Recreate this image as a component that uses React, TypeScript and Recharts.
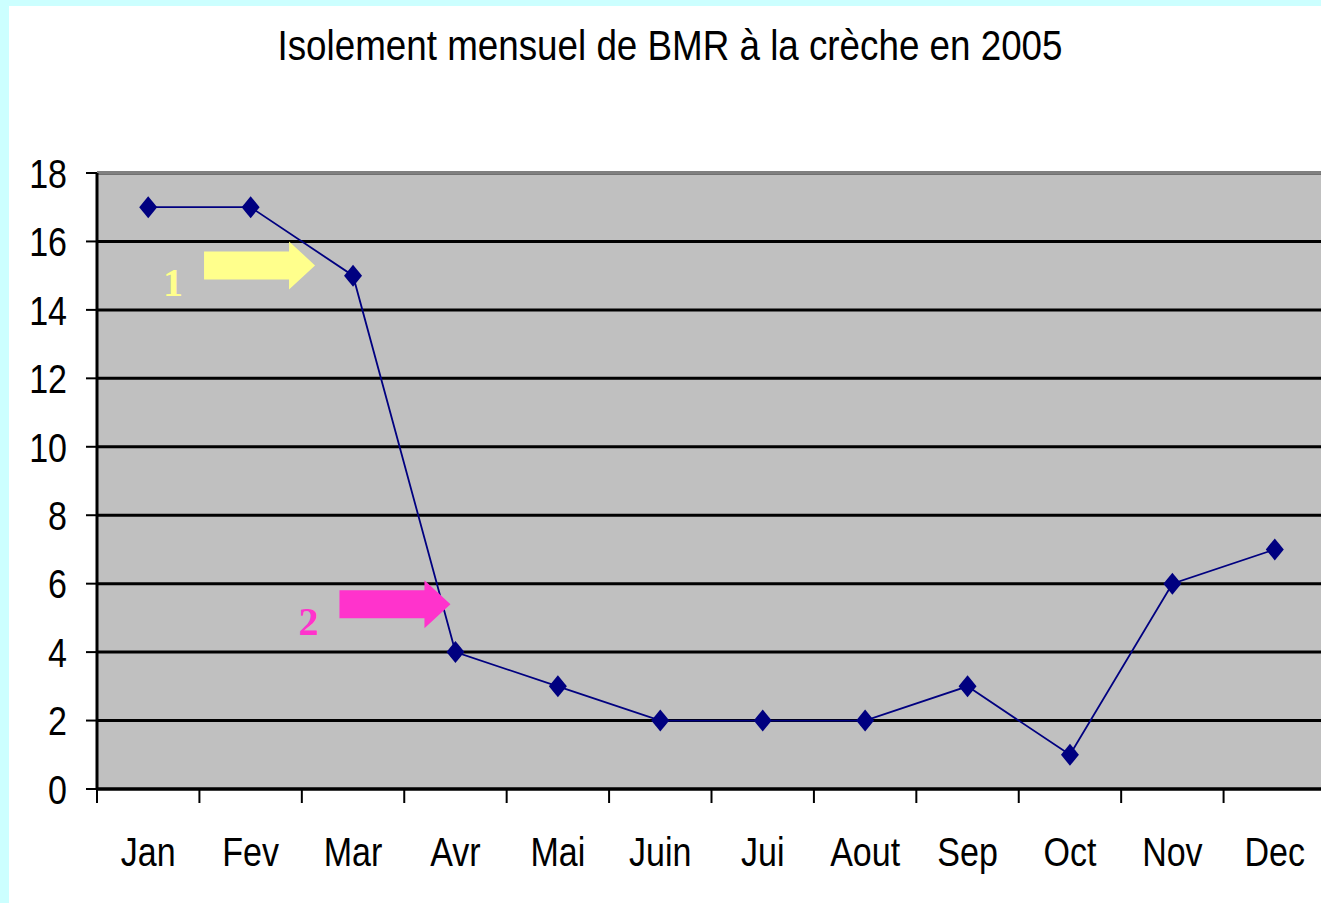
import React from 'react';
import { LineChart, Line, XAxis, YAxis, CartesianGrid, ReferenceLine, ReferenceDot } from 'recharts';

const months = ['Jan', 'Fev', 'Mar', 'Avr', 'Mai', 'Juin', 'Jui', 'Aout', 'Sep', 'Oct', 'Nov', 'Dec'];
const isolements = [17, 17, 15, 4, 3, 2, 2, 2, 3, 1, 6, 7];
const yTicks = [0, 2, 4, 6, 8, 10, 12, 14, 16, 18];

// annotation arrows (anchored on a month and a value)
const arrowLabels = ['1', '2'];
const arrowMonths = ['Mar', 'Avr'];
const arrowValues = [15.3, 5.4];

const title = 'Isolement mensuel de BMR à la crèche en 2005';

const data = months.map((m, i) => ({ month: m, value: isolements[i] }));

const FONT = "'Liberation Sans', Arial, sans-serif";
const NAVY = '#000080';
const PLOT_W = 1229;
const BAND = PLOT_W / months.length;
const SQUEEZE = 0.83;

const arrowStyles = [
  { color: '#FFFF8C', dx: -38 },
  { color: '#FF33CC', dx: -5 },
];

const MonthTick = ({ x, y, payload }: any) => (
  <g>
    <line x1={x - BAND / 2} x2={x - BAND / 2} y1={y} y2={y + 14} stroke="#000" strokeWidth={2} />
    <text
      transform={`translate(${x},${y + 77}) scale(${SQUEEZE},1)`}
      textAnchor="middle"
      fontFamily={FONT}
      fontSize={41}
      fill="#000"
    >
      {payload.value}
    </text>
  </g>
);

const ValueTick = ({ x, y, payload }: any) => (
  <text
    transform={`translate(${x},${y}) scale(${SQUEEZE},1)`}
    textAnchor="end"
    dy="0.36em"
    fontFamily={FONT}
    fontSize={41}
    fill="#000"
  >
    {payload.value}
  </text>
);

const Marker = ({ cx, cy }: any) => {
  if (cx == null || cy == null) return null;
  return (
    <g>
      <polygon
        points={`${cx},${cy - 11} ${cx + 9},${cy} ${cx},${cy + 11} ${cx - 9},${cy}`}
        fill={NAVY}
      />
      <circle cx={cx} cy={cy} r={6.5} fill={NAVY} />
    </g>
  );
};

const makeArrow = (label: string, color: string, dx: number) => ({ cx, cy }: any) => {
  const tip = cx + dx;
  const neck = tip - 26;
  const tail = neck - 85;
  return (
    <g>
      <polygon
        points={`${tail},${cy - 14} ${neck},${cy - 14} ${neck},${cy - 24} ${tip},${cy} ${neck},${cy + 24} ${neck},${cy + 14} ${tail},${cy + 14}`}
        fill={color}
      />
      <text
        x={tip - 142}
        y={cy + 31}
        textAnchor="middle"
        fontFamily="'Liberation Serif', 'Times New Roman', serif"
        fontWeight="bold"
        fontSize={40}
        fill={color}
      >
        {label}
      </text>
    </g>
  );
};

export default function App() {
  return (
    <div
      style={{
        position: 'absolute',
        left: 0,
        top: 0,
        width: 1321,
        height: 903,
        background: '#CCFFFF',
        overflow: 'hidden',
      }}
    >
      <div style={{ position: 'absolute', left: 9, top: 6, right: 0, bottom: 0, background: '#fff' }} />
      <svg width={1321} height={100} style={{ position: 'absolute', left: 0, top: 0 }}>
        <text
          transform={`translate(670,60) scale(1,1.05)`}
          textAnchor="middle"
          fontFamily={FONT}
          fontSize={40}
          textLength={785}
          lengthAdjust="spacingAndGlyphs"
          fill="#000"
        >
          {title}
        </text>
      </svg>
      <div style={{ position: 'absolute', left: 0, top: 0 }}>
        <LineChart
          width={1340}
          height={903}
          data={data}
          margin={{ top: 173, right: 14, left: 0, bottom: 54 }}
        >
          <CartesianGrid vertical={false} stroke="#000" strokeWidth={3} fill="#C0C0C0" />
          <ReferenceLine y={18} stroke="#808080" strokeWidth={3} />
          <XAxis
            dataKey="month"
            scale="band"
            height={60}
            tickLine={false}
            tickSize={0}
            tickMargin={0}
            axisLine={{ stroke: '#000', strokeWidth: 3 }}
            tick={<MonthTick />}
            interval={0}
          />
          <YAxis
            width={97}
            domain={[0, 18]}
            ticks={yTicks}
            interval={0}
            tickSize={11}
            tickMargin={19}
            axisLine={{ stroke: '#000', strokeWidth: 3 }}
            tickLine={{ stroke: '#000', strokeWidth: 2 }}
            tick={<ValueTick />}
          />
          {arrowLabels.map((label, i) => (
            <ReferenceDot
              key={label}
              x={arrowMonths[i]}
              y={arrowValues[i]}
              r={0}
              shape={makeArrow(label, arrowStyles[i].color, arrowStyles[i].dx)}
            />
          ))}
          <Line
            type="linear"
            dataKey="value"
            stroke={NAVY}
            strokeWidth={1.8}
            dot={<Marker />}
            activeDot={false}
            isAnimationActive={false}
          />
        </LineChart>
      </div>
    </div>
  );
}
